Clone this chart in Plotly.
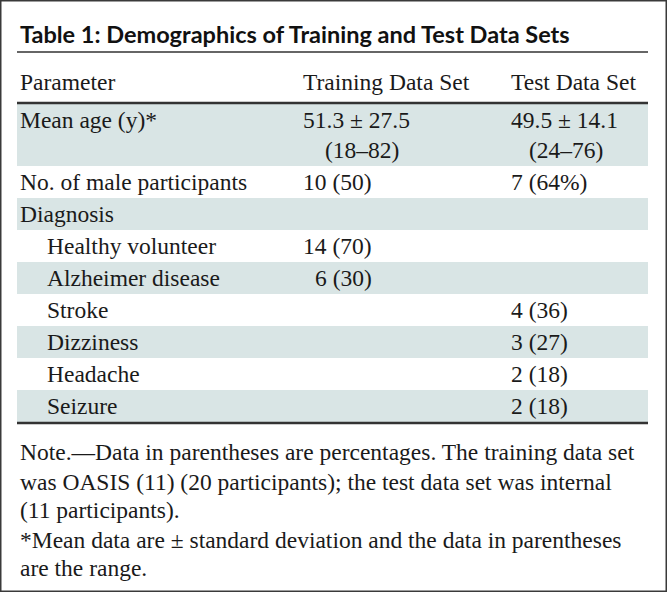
import plotly.graph_objects as go

W, H = 667, 592

title = "Table 1: Demographics of Training and Test Data Sets"
headers = ["Parameter", "Training Data Set", "Test Data Set"]
params = ["Mean age (y)*", "No. of male participants", "Diagnosis", "Healthy volunteer",
          "Alzheimer disease", "Stroke", "Dizziness", "Headache", "Seizure"]
indented = [False, False, False, True, True, True, True, True, True]
training = ["51.3 ± 27.5", "10 (50)", "", "14 (70)", "6 (30)", "", "", "", ""]
training_sub = ["(18–82)", "", "", "", "", "", "", "", ""]
test = ["49.5 ± 14.1", "7 (64%)", "", "", "", "4 (36)", "3 (27)", "2 (18)", "2 (18)"]
test_sub = ["(24–76)", "", "", "", "", "", "", "", ""]
shaded = [True, False, True, False, True, False, True, False, True]
notes = [
    "Note.—Data in parentheses are percentages. The training data set",
    "was OASIS (11) (20 participants); the test data set was internal",
    "(11 participants).",
    "*Mean data are ± standard deviation and the data in parentheses",
    "are the range.",
]

SERIF = "'Liberation Serif', 'DejaVu Serif', serif"
TXT = "#1a1a1a"
BAND = "#d9e5e5"
FS = 23.5

fig = go.Figure()
shapes = []
ann = []

# outer border
shapes.append(dict(type="rect", x0=0.75, x1=W - 0.75, y0=0.75, y1=H - 0.75,
                   line=dict(color="#3a3a3a", width=1.5), fillcolor="rgba(0,0,0,0)"))

L, R = 17, 648
# title
ann.append(dict(x=18, y=34, text="<b>" + title + "</b>", xanchor="left", yanchor="middle",
                font=dict(family="Lato", size=23.5, color="#111", weight=900), showarrow=False))
shapes.append(dict(type="line", x0=L, x1=R, y0=52, y1=52, line=dict(color="#333", width=1.5)))

# header
col_x = [18, 301, 509]
for h, cx in zip(headers, col_x):
    ann.append(dict(x=cx, y=82, text=h, xanchor="left", yanchor="middle",
                    font=dict(family=SERIF, size=FS, color=TXT), showarrow=False))
shapes.append(dict(type="line", x0=L, x1=R, y0=103, y1=103, line=dict(color="#333", width=2.5)))

# rows
row_top = [103, 166, 198, 230, 262, 294, 326, 358, 390]
row_bot = [166, 198, 230, 262, 294, 326, 358, 390, 422]
for i, p in enumerate(params):
    t0, t1 = row_top[i], row_bot[i]
    if shaded[i]:
        shapes.append(dict(type="rect", x0=L, x1=R, y0=t0, y1=t1, line=dict(width=0),
                           fillcolor=BAND, layer="below"))
    yc = 120 if i == 0 else (t0 + t1) / 2
    ann.append(dict(x=45 if indented[i] else 18, y=yc, text=p, xanchor="left", yanchor="middle",
                    font=dict(family=SERIF, size=FS, color=TXT), showarrow=False))
    if training[i]:
        tx = 301 + (12 if training[i].startswith("6 ") else 0)
        ann.append(dict(x=tx, y=yc, text=training[i], xanchor="left", yanchor="middle",
                        font=dict(family=SERIF, size=FS, color=TXT), showarrow=False))
    if training_sub[i]:
        ann.append(dict(x=323, y=150, text=training_sub[i], xanchor="left", yanchor="middle",
                        font=dict(family=SERIF, size=FS, color=TXT), showarrow=False))
    if test[i]:
        ann.append(dict(x=509, y=yc, text=test[i], xanchor="left", yanchor="middle",
                        font=dict(family=SERIF, size=FS, color=TXT), showarrow=False))
    if test_sub[i]:
        ann.append(dict(x=527, y=150, text=test_sub[i], xanchor="left", yanchor="middle",
                        font=dict(family=SERIF, size=FS, color=TXT), showarrow=False))

shapes.append(dict(type="line", x0=L, x1=R, y0=423, y1=423, line=dict(color="#333", width=2.5)))

note_y = [452, 482, 510, 540, 568]
for n, ny in zip(notes, note_y):
    ann.append(dict(x=18, y=ny, text=n, xanchor="left", yanchor="middle",
                    font=dict(family=SERIF, size=FS, color=TXT), showarrow=False))

fig.update_layout(
    width=W, height=H, margin=dict(l=0, r=0, t=0, b=0),
    paper_bgcolor="white", plot_bgcolor="white",
    xaxis=dict(range=[0, W], visible=False, fixedrange=True),
    yaxis=dict(range=[H, 0], visible=False, fixedrange=True),
    shapes=shapes, annotations=ann, showlegend=False,
)
fig.write_html("out.html", config={"displayModeBar": False},
               post_script="document.body.style.margin='0';document.body.style.overflow='hidden';")
